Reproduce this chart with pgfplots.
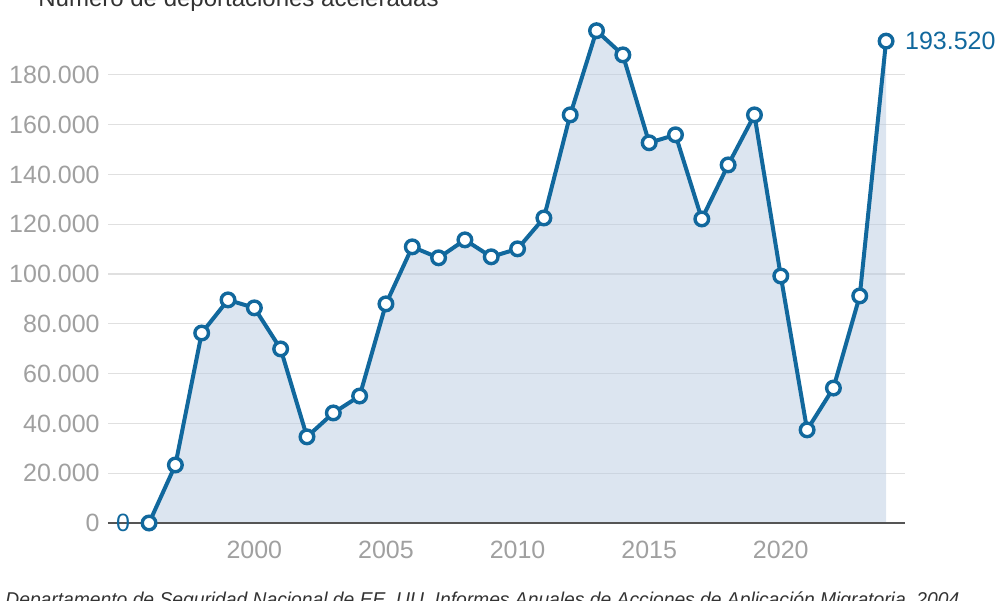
\documentclass[border=0pt]{standalone}
\usepackage{pgfplots}
\pgfplotsset{compat=1.18}
\usepackage{pgfplotstable}
\usepackage{fontspec}
\setmainfont{Liberation Sans}
\definecolor{lineblue}{HTML}{11689D}
\definecolor{fillblue}{HTML}{B9CBE1}
\definecolor{ticklab}{HTML}{A0A0A0}
\definecolor{gridc}{HTML}{E0E0E0}
\definecolor{axisc}{HTML}{555555}
\definecolor{titlec}{HTML}{333333}

\pgfplotstableread{
year value
1996 0
1997 23300
1998 76300
1999 89600
2000 86400
2001 69900
2002 34600
2003 44200
2004 51000
2005 88000
2006 110900
2007 106500
2008 113700
2009 106900
2010 110100
2011 122500
2012 163900
2013 197700
2014 188000
2015 152700
2016 155900
2017 122100
2018 143800
2019 163900
2020 99200
2021 37400
2022 54200
2023 91200
2024 193520
}\datatable

\begin{document}
\begin{tikzpicture}
\clip (0,0) rectangle (500pt,300pt);
\begin{axis}[
  at={(54pt,38.5pt)}, anchor=south west,
  scale only axis, width=398.5pt, height=249pt,
  xmin=1994.44, xmax=2024.72, ymin=0, ymax=200000,
  clip=false,
  scaled x ticks=false, scaled y ticks=false,
  axis line style={draw=none},
  major tick length=0pt,
  xtick={2000,2005,2010,2015,2020},
  xticklabels={2000,2005,2010,2015,2020},
  ytick={0,20000,40000,60000,80000,100000,120000,140000,160000,180000},
  yticklabels={0,20.000,40.000,60.000,80.000,100.000,120.000,140.000,160.000,180.000},
  ymajorgrids,
  grid style={gridc, line width=0.6pt},
  ticklabel style={font=\fontsize{12.5}{14}\selectfont, text=ticklab},
  yticklabel style={anchor=east, inner sep=0pt, xshift=-4pt},
  xticklabel style={anchor=north, inner sep=0pt, yshift=-9pt},
]
\addplot[draw=none, fill=fillblue, fill opacity=0.5] table[x=year,y=value]{\datatable} \closedcycle;
\draw[axisc, line width=1pt] (rel axis cs:0,0) -- (rel axis cs:1,0);
\addplot[lineblue, line width=2pt, mark=*, mark size=3.4pt,
  mark options={fill=white, draw=lineblue, line width=1.7pt}] table[x=year,y=value]{\datatable};
\node[anchor=west, xshift=6pt, text=lineblue, font=\fontsize{12.5}{14}\selectfont] at (axis cs:2024,193520) {193.520};
\node[anchor=east, xshift=-6pt, text=lineblue, font=\fontsize{12.5}{14}\selectfont] at (axis cs:1996,0) {0};
\end{axis}
\node[anchor=base west, inner sep=0pt, text=titlec, font=\fontsize{12}{14}\selectfont] at (19pt,296.5pt) {Número de deportaciones aceleradas};
\node[anchor=base west, inner sep=0pt, text=titlec, font=\itshape\fontsize{10}{12}\selectfont] at (2.5pt,-3pt) {\resizebox{477pt}{\height}{Departamento de Seguridad Nacional de EE. UU. Informes Anuales de Acciones de Aplicación Migratoria, 2004}};
\end{tikzpicture}
\end{document}
